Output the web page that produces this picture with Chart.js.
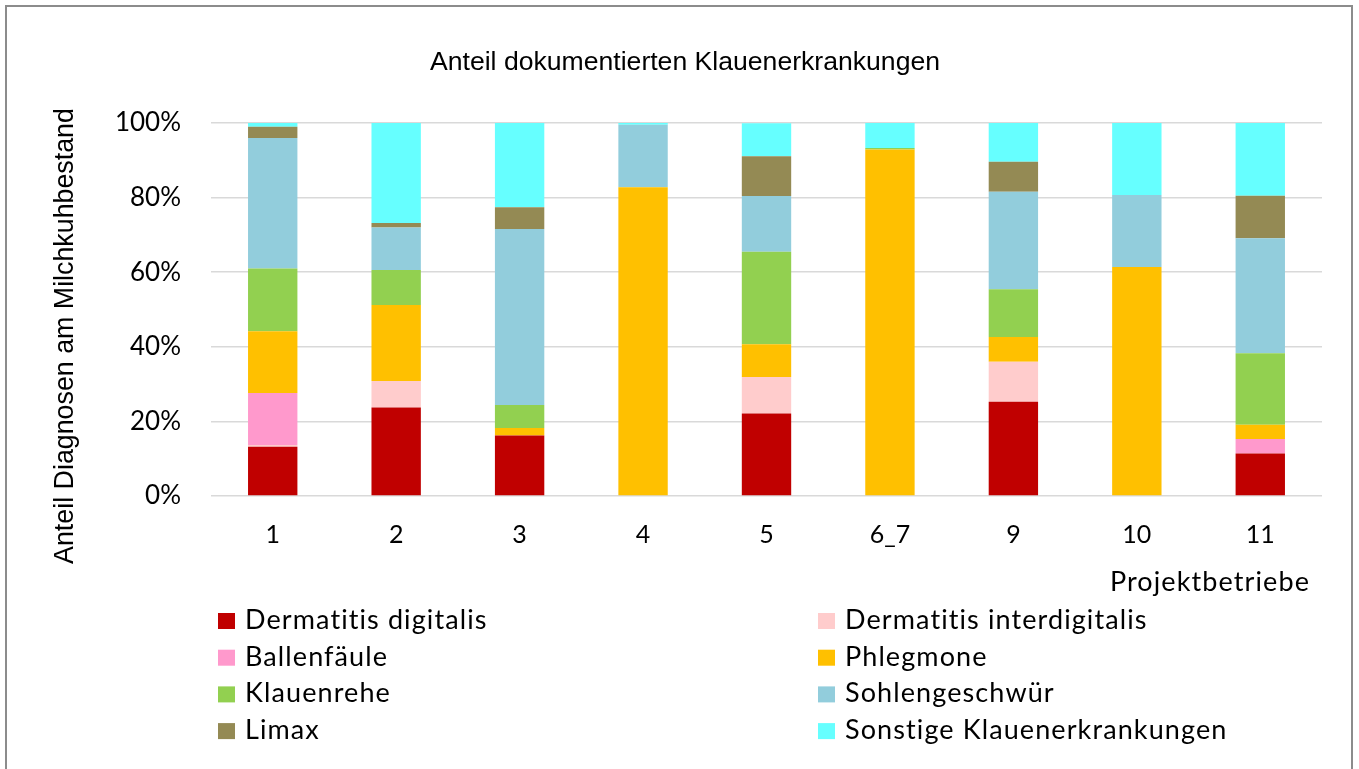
<!DOCTYPE html>
<html>
<head>
<meta charset="utf-8">
<script src="https://cdn.jsdelivr.net/npm/chart.js@4.4.1/dist/chart.umd.min.js"></script>
<style>
  html, body { margin: 0; padding: 0; background: #ffffff; }
  canvas { display: block; }
</style>
</head>
<body>
<canvas id="chart" width="1359" height="769"></canvas>
<script>
// ---- Data (percent of documented diagnoses per farm) ----
const categories = ['1', '2', '3', '4', '5', '6_7', '9', '10', '11'];
const seriesNames = [
  'Dermatitis digitalis', 'Dermatitis interdigitalis', 'Ballenfäule', 'Phlegmone',
  'Klauenrehe', 'Sohlengeschwür', 'Limax', 'Sonstige Klauenerkrankungen'
];
const dermatitisDigitalis      = [13.2, 23.7, 16.2, 0,    22.1, 0,    25.3, 0,    11.4];
const dermatitisInterdigitalis = [0.5,  7.1,  0,    0,    9.8,  0,    10.7, 0,    0];
const ballenfaeule             = [13.9, 0,    0,    0,    0,    0,    0,    0,    3.9];
const phlegmone                = [16.6, 20.4, 2.0,  82.8, 8.8,  92.9, 6.6,  61.4, 3.8];
const klauenrehe               = [16.8, 9.4,  6.2,  0,    24.8, 0.4,  12.8, 0,    19.2];
const sohlengeschwuer          = [35.0, 11.4, 47.2, 16.7, 14.9, 0,    26.2, 19.3, 30.8];
const limax                    = [3.0,  1.2,  5.8,  0,    10.7, 0,    8.0,  0,    11.4];
const sonstige                 = [1.0,  26.8, 22.6, 0.5,  8.8,  6.7,  10.4, 19.3, 19.5];
const yTickValues = [0, 20, 40, 60, 80, 100];

const chartTitle = 'Anteil dokumentierten Klauenerkrankungen';
const yAxisTitle = 'Anteil Diagnosen am Milchkuhbestand';
const xAxisTitle = 'Projektbetriebe';

const seriesValues = [dermatitisDigitalis, dermatitisInterdigitalis, ballenfaeule, phlegmone,
  klauenrehe, sohlengeschwuer, limax, sonstige];
const seriesColors = ['#C00000', '#FFCCCC', '#FF99CC', '#FFC000',
  '#92D050', '#92CDDC', '#948A54', '#66FFFF'];

const datasets = seriesNames.map((name, i) => ({
  label: name,
  data: seriesValues[i],
  backgroundColor: seriesColors[i],
  borderWidth: 0,
  barPercentage: 0.4,
  categoryPercentage: 1.0
}));

const CAL = 'Lato, "Open Sans", sans-serif';
const ARIAL = '"Liberation Sans", Arial, sans-serif';

const decorPlugin = {
  id: 'decor',
  afterDraw(chart) {
    const ctx = chart.ctx;
    ctx.save();
    // outer frame
    ctx.strokeStyle = '#8c8c8c';
    ctx.lineWidth = 2;
    ctx.strokeRect(6, 6, 1346, 800);

    // chart title
    ctx.fillStyle = '#000000';
    ctx.font = '26.6px ' + ARIAL;
    ctx.textAlign = 'center';
    ctx.textBaseline = 'alphabetic';
    ctx.fillText(chartTitle, 685, 70);

    // y axis title
    ctx.save();
    ctx.translate(73, 336);
    ctx.rotate(-Math.PI / 2);
    ctx.font = '26.8px ' + ARIAL;
    ctx.textAlign = 'center';
    ctx.textBaseline = 'alphabetic';
    ctx.fillText(yAxisTitle, 0, 0);
    ctx.restore();

    // x axis title (right aligned)
    if ('letterSpacing' in ctx) ctx.letterSpacing = '1.1px';
    ctx.font = '27px ' + CAL;
    ctx.textAlign = 'right';
    ctx.textBaseline = 'alphabetic';
    ctx.fillText(xAxisTitle, 1310, 591);

    // legend, two columns, row-major order
    ctx.font = '27px ' + CAL;
    ctx.textAlign = 'left';
    chart.data.datasets.forEach((ds, i) => {
      const col = i % 2;
      const row = Math.floor(i / 2);
      const bx = col === 0 ? 218 : 818;
      const base = 629 + row * 36.7;
      ctx.fillStyle = ds.backgroundColor;
      ctx.fillRect(bx, base - 16, 17, 16);
      ctx.fillStyle = '#000000';
      ctx.fillText(ds.label, bx + 27, base);
    });
    if ('letterSpacing' in ctx) ctx.letterSpacing = '0px';
    ctx.restore();
  }
};

new Chart(document.getElementById('chart'), {
  type: 'bar',
  data: { labels: categories, datasets },
  plugins: [decorPlugin],
  options: {
    responsive: false,
    animation: false,
    devicePixelRatio: 1,
    layout: { padding: { left: 0, right: 37, top: 123, bottom: 213 } },
    plugins: {
      legend: { display: false },
      title: { display: false },
      tooltip: { enabled: false }
    },
    scales: {
      x: {
        stacked: true,
        grid: { display: false, drawTicks: false },
        border: { display: false },
        ticks: { color: '#000000', font: { family: CAL, size: 25 }, padding: 24 },
        afterFit: (s) => { s.height = 60; }
      },
      y: {
        stacked: true,
        min: 0,
        max: 100,
        afterBuildTicks: (s) => { s.ticks = yTickValues.map(v => ({ value: v })); },
        grid: { color: '#d9d9d9', lineWidth: 1.5, drawTicks: false },
        border: { display: false },
        ticks: {
          color: '#000000',
          font: { family: CAL, size: 26 },
          padding: 30,
          callback: (v) => v + '%'
        },
        afterFit: (s) => { s.width = 211; }
      }
    }
  }
});
</script>
</body>
</html>
